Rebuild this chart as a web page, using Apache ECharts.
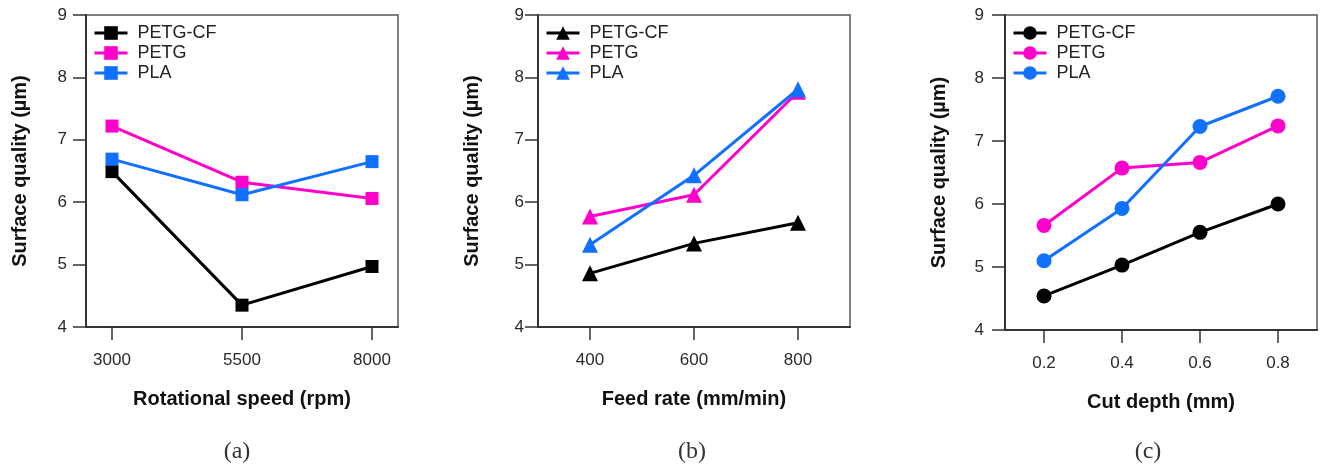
<!DOCTYPE html>
<html>
<head>
<meta charset="utf-8">
<script src="https://cdn.jsdelivr.net/npm/echarts@6/dist/echarts.min.js"></script>
<style>
html,body{margin:0;padding:0;background:#fff;}
#chart{width:1320px;height:467px;}
</style>
</head>
<body>
<div id="chart"></div>
<script>
// ---- data ----
const seriesNames = ['PETG-CF', 'PETG', 'PLA'];
const yTicks = [4, 5, 6, 7, 8, 9];

const speedX = [3000, 5500, 8000];
const speedPETGCF = [6.49, 4.35, 4.97];
const speedPETG = [7.22, 6.32, 6.06];
const speedPLA = [6.69, 6.12, 6.65];

const feedX = [400, 600, 800];
const feedPETGCF = [4.86, 5.34, 5.67];
const feedPETG = [5.77, 6.12, 7.77];
const feedPLA = [5.32, 6.43, 7.81];

const depthX = [0.2, 0.4, 0.6, 0.8];
const depthPETGCF = [4.54, 5.03, 5.55, 6.00];
const depthPETG = [5.66, 6.57, 6.66, 7.24];
const depthPLA = [5.10, 5.93, 7.23, 7.71];

const captions = ['(a)', '(b)', '(c)'];
const xTitles = ['Rotational speed (rpm)', 'Feed rate (mm/min)', 'Cut depth (mm)'];
const yTitle = 'Surface quality (µm)';

// ---- styling ----
const FONT = "'Liberation Sans', Arial, sans-serif";
const colors = ['#000000', '#ff00cc', '#1070ff'];

const panels = [
  {key: 'a', x: speedX, ys: [speedPETGCF, speedPETG, speedPLA], min: 2500, max: 8500, symbol: 'rect', size: 13,
   grid: {left: 86, top: 15, width: 312, height: 312}, ylm: 19, cap: 237},
  {key: 'b', x: feedX, ys: [feedPETGCF, feedPETG, feedPLA], min: 300, max: 900, symbol: 'triangle', size: 16,
   grid: {left: 538, top: 15, width: 312, height: 312}, ylm: 14, cap: 692},
  {key: 'c', x: depthX, ys: [depthPETGCF, depthPETG, depthPLA], min: 0.1, max: 0.9, symbol: 'circle', size: 15,
   grid: {left: 1005, top: 15, width: 312, height: 315}, ylm: 21, cap: 1148}
];

const grids = [], xAxes = [], yAxes = [], series = [], legends = [], graphics = [];
panels.forEach((p, i) => {
  grids.push(Object.assign({show: true, borderColor: '#555', borderWidth: 1.5, backgroundColor: 'transparent'}, p.grid));
  xAxes.push({
    type: 'value', gridIndex: i, min: p.min, max: p.max,
    name: xTitles[i], nameLocation: 'middle', nameGap: 62,
    nameTextStyle: {fontFamily: FONT, fontSize: 20, fontWeight: 'bold', color: '#111'},
    axisLine: {show: true, onZero: false, lineStyle: {color: '#333', width: 2}},
    axisTick: {show: true, inside: false, length: 13, customValues: p.x, lineStyle: {color: '#333', width: 1.5}},
    axisLabel: {show: true, margin: 25, customValues: p.x, fontFamily: FONT, fontSize: 17, color: '#2a2a2a',
      formatter: v => String(v)},
    splitLine: {show: false}
  });
  yAxes.push({
    type: 'value', gridIndex: i, min: 4, max: 9, interval: 1,
    name: yTitle, nameLocation: 'middle', nameGap: 55.5,
    nameTextStyle: {fontFamily: FONT, fontSize: 20, fontWeight: 'bold', color: '#111'},
    axisLine: {show: true, onZero: false, lineStyle: {color: '#333', width: 2}},
    axisTick: {show: true, inside: false, length: 13, customValues: yTicks, lineStyle: {color: '#333', width: 1.5}},
    axisLabel: {show: true, margin: p.ylm, customValues: yTicks, fontFamily: FONT, fontSize: 17, color: '#2a2a2a'},
    splitLine: {show: false}
  });
  const names = [];
  seriesNames.forEach((n, k) => {
    const nm = p.key + ':' + n;
    names.push(nm);
    series.push({
      name: nm, type: 'line', xAxisIndex: i, yAxisIndex: i,
      data: p.x.map((xv, j) => [xv, p.ys[k][j]]),
      symbol: p.symbol, symbolSize: p.size, showSymbol: true,
      itemStyle: {color: colors[k]}, lineStyle: {color: colors[k], width: 3},
      emphasis: {disabled: true}, animation: false
    });
  });
  legends.push({
    data: names, orient: 'vertical', left: p.grid.left + 2, top: 19,
    itemWidth: 33, itemHeight: 17, itemGap: 2,
    lineStyle: {width: 3},
    formatter: nm => nm.split(':')[1],
    textStyle: {fontFamily: FONT, fontSize: 18, color: '#222', padding: [0, 0, 0, 5]},
    selectedMode: false
  });
  graphics.push({
    type: 'text', x: p.cap, y: 452,
    style: {text: captions[i], font: "24px 'Liberation Serif', 'Times New Roman', serif", fill: '#333',
      align: 'center', verticalAlign: 'middle'}
  });
});

const chart = echarts.init(document.getElementById('chart'), null, {renderer: 'canvas'});
chart.setOption({
  animation: false,
  backgroundColor: '#fff',
  grid: grids, xAxis: xAxes, yAxis: yAxes, series: series, legend: legends, graphic: graphics
});
</script>
</body>
</html>
